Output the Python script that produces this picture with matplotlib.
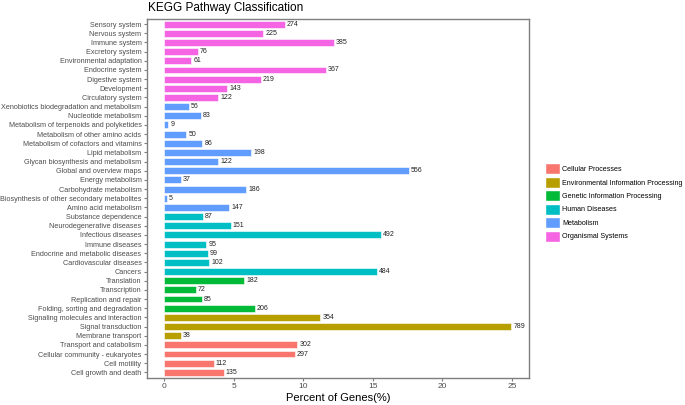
import matplotlib.pyplot as plt
import numpy as np

# KEGG level-2 pathways, top to bottom as drawn
pathways = [
    'Sensory system', 'Nervous system', 'Immune system', 'Excretory system',
    'Environmental adaptation', 'Endocrine system', 'Digestive system',
    'Development', 'Circulatory system',
    'Xenobiotics biodegradation and metabolism', 'Nucleotide metabolism',
    'Metabolism of terpenoids and polyketides', 'Metabolism of other amino acids',
    'Metabolism of cofactors and vitamins', 'Lipid metabolism',
    'Glycan biosynthesis and metabolism', 'Global and overview maps',
    'Energy metabolism', 'Carbohydrate metabolism',
    'Biosynthesis of other secondary metabolites', 'Amino acid metabolism',
    'Substance dependence', 'Neurodegenerative diseases', 'Infectious diseases',
    'Immune diseases', 'Endocrine and metabolic diseases',
    'Cardiovascular diseases', 'Cancers',
    'Translation', 'Transcription', 'Replication and repair',
    'Folding, sorting and degradation',
    'Signaling molecules and interaction', 'Signal transduction',
    'Membrane transport',
    'Transport and catabolism', 'Cellular community - eukaryotes',
    'Cell motility', 'Cell growth and death',
]
gene_counts = [
    274, 225, 385, 76, 61, 367, 219, 143, 122,
    56, 83, 9, 50, 86, 198, 122, 556, 37, 186, 5, 147,
    87, 151, 492, 95, 99, 102, 484,
    182, 72, 85, 206,
    354, 789, 38,
    302, 297, 112, 135,
]
classes = (['Organismal Systems'] * 9 + ['Metabolism'] * 12 +
           ['Human Diseases'] * 7 + ['Genetic Information Processing'] * 4 +
           ['Environmental Information Processing'] * 3 +
           ['Cellular Processes'] * 4)
total_genes = 3160

class_names = ['Cellular Processes', 'Environmental Information Processing',
               'Genetic Information Processing', 'Human Diseases',
               'Metabolism', 'Organismal Systems']
class_colors = ['#F8766D', '#B79F00', '#00BA38', '#00BFC4', '#619CFF', '#F564E3']

plt.rcParams['font.family'] = ['Liberation Sans', 'DejaVu Sans']

percent = np.array(gene_counts) / total_genes * 100
n = len(pathways)
ypos = np.arange(n)[::-1]
color_map = dict(zip(class_names, class_colors))
bar_colors = [color_map[c] for c in classes]

fig = plt.figure(figsize=(6.85, 4.05), dpi=100)
ax = fig.add_axes([0.2146, 0.067, 0.5574, 0.887])

ax.barh(ypos, percent, height=0.75, color=bar_colors, edgecolor='white', linewidth=0.4)
for y, p, c in zip(ypos, percent, gene_counts):
    ax.text(p + 0.15, y, str(c), va='center', ha='left', fontsize=5, color='#222222')

ax.set_yticks(ypos)
ax.set_yticklabels(pathways, fontsize=5.25, color='#4D4D4D')
ax.set_ylim(-0.6, n - 0.4)
xmax = percent.max()
ax.set_xlim(-0.05 * xmax, 1.05 * xmax)
ax.set_xticks([0, 5, 10, 15, 20, 25])
ax.tick_params(axis='x', labelsize=6, labelcolor='#4D4D4D', color='#7F7F7F',
               length=2.5, width=0.8, pad=1.5)
ax.tick_params(axis='y', color='#7F7F7F', length=2.5, width=0.8, pad=1.5)
ax.set_xlabel('Percent of Genes(%)', fontsize=8, labelpad=1.5)
for s in ax.spines.values():
    s.set_color('#7F7F7F')
    s.set_linewidth(1.0)

fig.text(0.329, 0.995, 'KEGG Pathway Classification', ha='center', va='top', fontsize=8.5)

handles = [plt.Rectangle((0, 0), 1, 1, facecolor=c, edgecolor='white') for c in class_colors]
fig.legend(handles, class_names, loc='center left', bbox_to_anchor=(0.792, 0.5),
           frameon=False, fontsize=5.1, handlelength=2.0, handleheight=2.0,
           handletextpad=0.35, labelspacing=0.36, borderaxespad=0)

fig.savefig('out.png', dpi=100)
